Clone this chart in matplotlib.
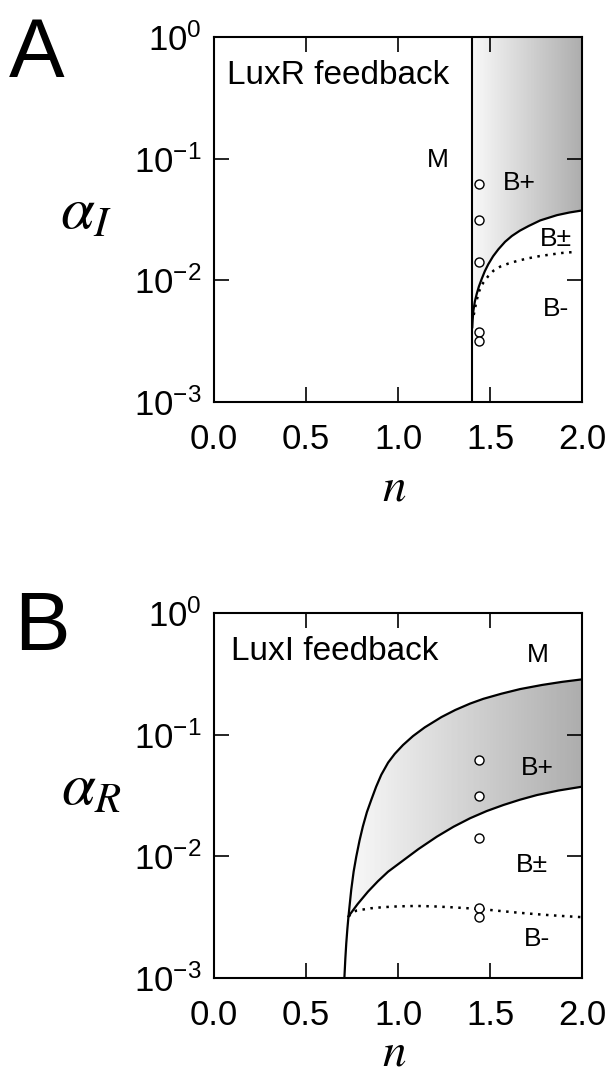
import numpy as np
import matplotlib
matplotlib.use('Agg')
import matplotlib.pyplot as plt
from matplotlib.patches import Polygon
from matplotlib.colors import LinearSegmentedColormap
from matplotlib.ticker import NullLocator

plt.rcParams['font.family'] = ['Liberation Sans', 'DejaVu Sans']
plt.rcParams['mathtext.fontset'] = 'custom'
plt.rcParams['mathtext.rm'] = 'Liberation Sans'

# ---- panel A: LuxR feedback ----
a_vline = 1.402  # left edge of the bistable region
a_solid_n = [1.402, 1.404, 1.408, 1.416, 1.426, 1.438, 1.453, 1.470, 1.489, 1.515,
             1.544, 1.58, 1.617, 1.66, 1.707, 1.771, 1.862, 1.93, 2.0]
a_solid = [0.00412, 0.00473, 0.00564, 0.00671, 0.00773, 0.00891, 0.01026, 0.01189, 0.01358, 0.01578,
           0.01803, 0.02075, 0.02317, 0.02559, 0.02793, 0.0311, 0.03436, 0.03614, 0.03758]
a_dot_n = [1.41, 1.425, 1.44, 1.462, 1.49, 1.517, 1.555, 1.598, 1.65, 1.707,
           1.765, 1.826, 1.89, 1.953]
a_dot = [0.0052, 0.0068, 0.0082, 0.0096, 0.0109, 0.012, 0.013, 0.01375, 0.0145, 0.0152,
         0.0158, 0.0163, 0.0168, 0.0171]

# ---- panel B: LuxI feedback ----
b_up_n = [0.708, 0.713, 0.718, 0.724, 0.730, 0.745, 0.758, 0.772, 0.79, 0.808,
          0.83, 0.854, 0.88, 0.908, 0.945, 0.981, 1.026, 1.08, 1.144, 1.235,
          1.31, 1.39, 1.462, 1.56, 1.662, 1.78, 1.89, 2.0]
b_up = [0.00102, 0.00145, 0.00193, 0.00254, 0.00321, 0.00532, 0.0075, 0.0099, 0.0135, 0.0176,
        0.0231, 0.0292, 0.0373, 0.0468, 0.0589, 0.0695, 0.0822, 0.0973, 0.1148, 0.1396,
        0.1596, 0.18, 0.197, 0.217, 0.237, 0.256, 0.2716, 0.285]
b_low_n = [0.730, 0.78, 0.836, 0.89, 0.945, 1.026, 1.11, 1.21, 1.30, 1.39,
           1.48, 1.571, 1.66, 1.753, 1.87, 2.0]
b_low = [0.00321, 0.00406, 0.00513, 0.00625, 0.00748, 0.00923, 0.01148, 0.01452, 0.0175, 0.02056,
         0.02355, 0.02642, 0.02917, 0.0319, 0.03475, 0.0374]
b_dot_n = [0.730, 0.772, 0.85, 0.917, 1.0, 1.099, 1.19, 1.281, 1.37, 1.463,
           1.55, 1.644, 1.735, 1.826, 1.91, 2.0]
b_dot = [0.00321, 0.00358, 0.00374, 0.00382, 0.00388, 0.00391, 0.00388, 0.00382, 0.00375, 0.00367,
         0.00356, 0.00345, 0.00336, 0.00328, 0.00322, 0.00316]

# open circles (same in both panels)
pts_n = [1.44, 1.44, 1.44, 1.44, 1.44]
pts_alpha = [0.062, 0.0315, 0.0141, 0.00378, 0.0032]

x_ticks = [0.0, 0.5, 1.0, 1.5, 2.0]
y_exps = [-3, -2, -1, 0]

fig = plt.figure(figsize=(6.09, 10.79), dpi=100)
axA = fig.add_axes([0.3514, 0.6274, 0.605, 0.3383])
axB = fig.add_axes([0.3514, 0.0936, 0.605, 0.3383])

grey = LinearSegmentedColormap.from_list('grey_grad', ['#f8f8f8', '#adadad'])


def shade(ax, verts, n0):
    poly = Polygon(verts, closed=True, transform=ax.transData, fc='none', ec='none')
    ax.add_patch(poly)
    xe = np.linspace(n0, 2.0, 150)
    c = (0.5 * (xe[1:] + xe[:-1]))[None, :]
    mesh = ax.pcolormesh(xe, [1e-3, 1.0], c, cmap=grey, shading='flat', zorder=1)
    mesh.set_clip_path(poly)


# panel A
shade(axA, list(zip(a_solid_n, a_solid)) + [(2.0, 1.0), (a_vline, 1.0)], a_vline)
axA.axvline(a_vline, color='black', lw=1.5, zorder=3)
axA.plot(a_solid_n, a_solid, color='black', lw=1.6, zorder=3)
axA.plot(a_dot_n, a_dot, color='black', lw=1.8, ls=(0, (1, 2.2)), zorder=3)

# panel B
shade(axB, list(zip(b_up_n[4:], b_up[4:])) + list(zip(b_low_n[::-1], b_low[::-1])), b_low_n[0])
axB.plot(b_up_n, b_up, color='black', lw=1.6, zorder=3)
axB.plot(b_low_n, b_low, color='black', lw=1.6, zorder=3)
axB.plot(b_dot_n, b_dot, color='black', lw=1.8, ls=(0, (1, 2.2)), zorder=3)

for ax in (axA, axB):
    ax.plot(pts_n, pts_alpha, 'o', mfc='white', mec='black', ms=6.5, mew=1.0, zorder=4)
    ax.set_yscale('log')
    ax.set_xlim(0, 2)
    ax.set_ylim(1e-3, 1)
    ax.set_xticks(x_ticks)
    ax.set_xticklabels([f'{v:.1f}' for v in x_ticks])
    ax.set_yticks([10.0 ** e for e in y_exps])
    ax.set_yticklabels([rf'$\mathregular{{10^{{{e}}}}}$' for e in y_exps])
    ax.yaxis.set_minor_locator(NullLocator())
    ax.tick_params(direction='in', length=11, width=1.2, top=True, right=True, labelsize=25)
    ax.tick_params(axis='x', pad=15)
    ax.tick_params(axis='y', pad=9)
    for s in ax.spines.values():
        s.set_linewidth(1.5)

axA.text(0.49, -0.271, r'$n$', transform=axA.transAxes, ha='center', va='baseline',
         fontsize=34, math_fontfamily='stix')
axB.text(0.49, -0.24, r'$n$', transform=axB.transAxes, ha='center', va='baseline',
         fontsize=34, math_fontfamily='stix')

# labels panel A
axA.text(-0.48, 0.891, 'A', transform=axA.transAxes, ha='center', va='baseline', fontsize=60)
axA.text(-0.418, 0.474, r'$\alpha_I$', transform=axA.transAxes, ha='left', va='baseline',
         fontsize=44, math_fontfamily='stix')
axA.text(0.071, 0.413, 'LuxR feedback', ha='left', va='baseline', fontsize=24)
axA.text(1.215, 0.0854, 'M', ha='center', va='baseline', fontsize=19)
axA.text(1.659, 0.0558, 'B+', ha='center', va='baseline', fontsize=19)
axA.text(1.858, 0.0192, 'B\u00b1', ha='center', va='baseline', fontsize=19)
axA.text(1.857, 0.00514, 'B-', ha='center', va='baseline', fontsize=19)

# labels panel B
axB.text(-0.466, 0.899, 'B', transform=axB.transAxes, ha='center', va='baseline', fontsize=60)
axB.text(-0.415, 0.474, r'$\alpha_R$', transform=axB.transAxes, ha='left', va='baseline',
         fontsize=44, math_fontfamily='stix')
axB.text(0.091, 0.411, 'LuxI feedback', ha='left', va='baseline', fontsize=24)
axB.text(1.760, 0.398, 'M', ha='center', va='baseline', fontsize=19)
axB.text(1.757, 0.0468, 'B+', ha='center', va='baseline', fontsize=19)
axB.text(1.728, 0.00738, 'B\u00b1', ha='center', va='baseline', fontsize=19)
axB.text(1.755, 0.00182, 'B-', ha='center', va='baseline', fontsize=19)

fig.savefig('out.png', dpi=100)
